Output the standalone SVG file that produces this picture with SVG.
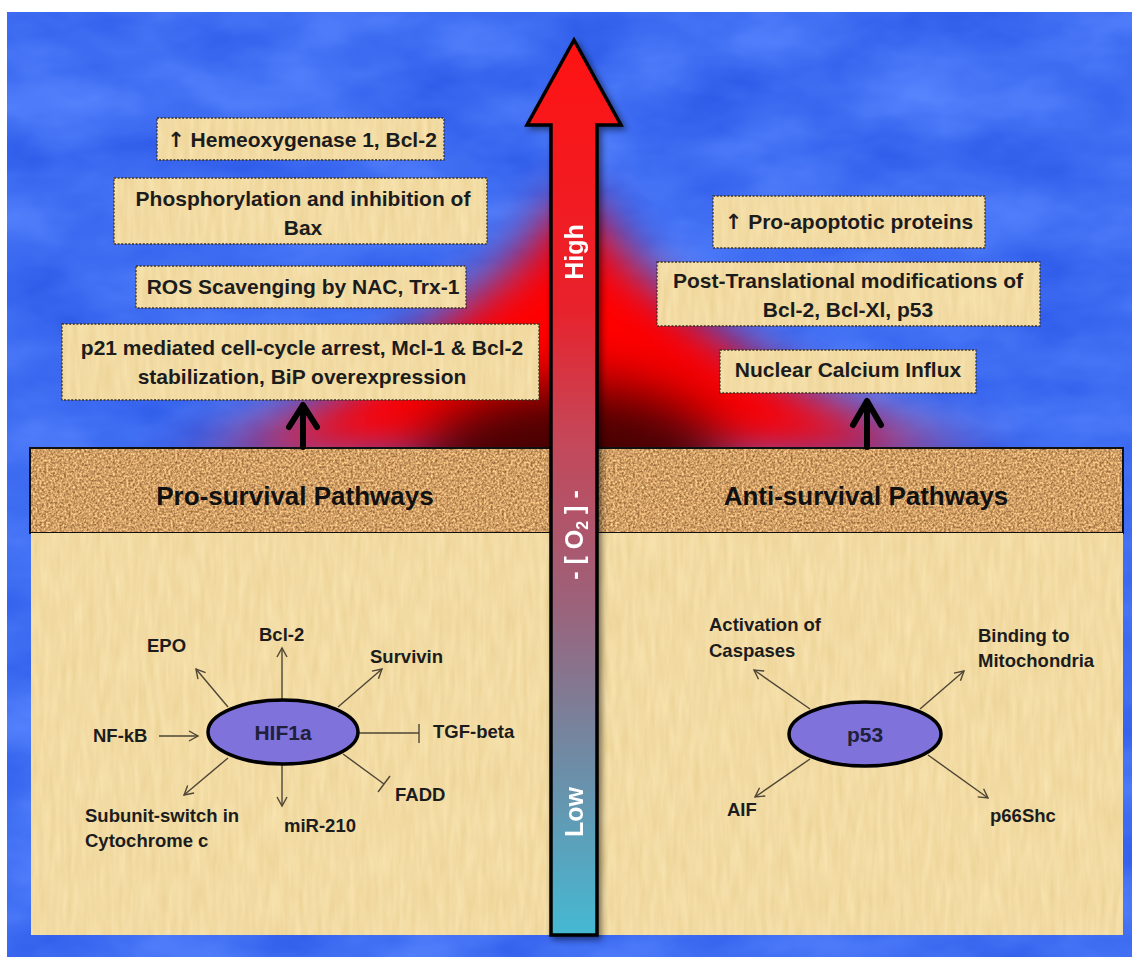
<svg xmlns="http://www.w3.org/2000/svg" width="1132" height="958" viewBox="0 0 1132 958">
<defs>
<style>
.lbl{font-family:"Liberation Sans",Arial,sans-serif;font-weight:bold;fill:#1c1c1c}
.up{font-family:"DejaVu Sans",sans-serif;font-weight:bold}
.boxt{font-size:21px;text-anchor:middle}
.node{font-size:18.5px}
.path{font-size:26px;text-anchor:middle;fill:#111}
.dot{fill:none;stroke:#3a3020;stroke-width:1.3;stroke-dasharray:2 1.6}
.paper{fill:#efd9a3}
.thin{fill:none;stroke:#4d4536;stroke-width:1.4}
.thick{fill:none;stroke:#000;stroke-width:6;stroke-linecap:round;stroke-linejoin:round}
.ell{fill:#7f72da;stroke:#000;stroke-width:3.5}
.ellt{font-size:21px;text-anchor:middle;fill:#20203a}
.arrt{font-family:"Liberation Sans",Arial,sans-serif;font-weight:bold;font-size:25px;fill:#fff;text-anchor:middle}
filter{color-interpolation-filters:sRGB}
</style>
<filter id="sky" x="0" y="0" width="1" height="1" color-interpolation-filters="sRGB">
<feTurbulence type="fractalNoise" baseFrequency="0.008 0.016" numOctaves="4" seed="2" result="n"/>
<feColorMatrix in="n" type="matrix" values="0.2 0 0 0 0.15  0.2 0 0 0 0.33  0.1 0 0 0 0.9  0 0 0 0 1" result="c"/>
<feComposite in="c" in2="SourceGraphic" operator="in"/>
</filter>
<filter id="papyrus" x="0" y="0" width="1" height="1" color-interpolation-filters="sRGB">
<feTurbulence type="fractalNoise" baseFrequency="0.18 0.025" numOctaves="2" seed="5" result="n"/>
<feColorMatrix in="n" type="matrix" values="0.06 0 0 0 0.92  0.08 0 0 0 0.82  0.12 0 0 0 0.58  0 0 0 0 1" result="c"/>
<feComposite in="c" in2="SourceGraphic" operator="in"/>
</filter>
<filter id="cork" x="0" y="0" width="1" height="1" color-interpolation-filters="sRGB">
<feTurbulence type="fractalNoise" baseFrequency="0.45" numOctaves="2" seed="9" result="n"/>
<feColorMatrix in="n" type="matrix" values="0.8 0 0 0 0.42  0.75 0 0 0 0.25  0.6 0 0 0 0.1  0 0 0 0 1" result="c"/>
<feComposite in="c" in2="SourceGraphic" operator="in"/>
</filter>
<filter id="blur1" x="-30%" y="-30%" width="160%" height="160%" color-interpolation-filters="sRGB"><feGaussianBlur stdDeviation="24"/></filter>
<filter id="blur2" x="-50%" y="-50%" width="200%" height="200%" color-interpolation-filters="sRGB"><feGaussianBlur stdDeviation="28"/></filter>
<filter id="shadow" x="-20%" y="-5%" width="140%" height="110%" color-interpolation-filters="sRGB"><feGaussianBlur in="SourceAlpha" stdDeviation="3"/><feOffset dx="3" dy="3"/><feComponentTransfer><feFuncA type="linear" slope="0.5"/></feComponentTransfer><feMerge><feMergeNode/><feMergeNode in="SourceGraphic"/></feMerge></filter>
<clipPath id="upper"><rect x="7" y="12" width="1125" height="436"/></clipPath>
<linearGradient id="o2" gradientUnits="userSpaceOnUse" x1="0" y1="40" x2="0" y2="935">
<stop offset="0" stop-color="#ff1212"/>
<stop offset="0.3" stop-color="#e8222c"/>
<stop offset="0.45" stop-color="#c4485a"/>
<stop offset="0.62" stop-color="#9e6078"/>
<stop offset="0.8" stop-color="#708aa4"/>
<stop offset="1" stop-color="#45b9d3"/>
</linearGradient>
<marker id="ah" markerWidth="12" markerHeight="12" refX="10" refY="6" orient="auto" markerUnits="userSpaceOnUse"><path d="M1,1 L10,6 L1,11" fill="none" stroke="#4d4536" stroke-width="1.4"/></marker>
</defs>

<g id="background">
<rect x="7" y="12" width="1125" height="945" fill="#3f6cf0" filter="url(#sky)"/>
<g clip-path="url(#upper)">
<path d="M160,455 C300,445 420,340 515,265 L574,190 L633,265 C720,340 850,445 1015,455 Z" fill="#ff0000" filter="url(#blur1)"/>
<ellipse cx="574" cy="460" rx="150" ry="75" fill="#4a0000" filter="url(#blur2)"/>
</g>
</g>

<g id="cork-band">
<rect x="30" y="448" width="1093" height="85" fill="#c08a58" filter="url(#cork)"/>
<rect x="30" y="448" width="1093" height="85" fill="none" stroke="#111" stroke-width="2"/>
</g>
<g id="papyrus-panel">
<rect x="31" y="533" width="1092" height="402" fill="#efd9a3" filter="url(#papyrus)"/>
</g>

<g id="label-pro-survival"><text class="lbl path" x="295" y="505">Pro-survival Pathways</text></g>
<g id="label-anti-survival"><text class="lbl path" x="866" y="505">Anti-survival Pathways</text></g>

<g id="box-hemeoxygenase">
<rect class="paper" x="157" y="118" width="287" height="42" filter="url(#papyrus)"/>
<rect class="dot" x="157" y="118" width="287" height="42"/>
<text class="lbl boxt" x="302" y="147"><tspan class="up">↑</tspan> Hemeoxygenase 1, Bcl-2</text>
</g>
<g id="box-phosphorylation">
<rect class="paper" x="114" y="178" width="373" height="66" filter="url(#papyrus)"/>
<rect class="dot" x="114" y="178" width="373" height="66"/>
<text class="lbl boxt" x="303" y="206">Phosphorylation and inhibition of</text>
<text class="lbl boxt" x="303" y="235">Bax</text>
</g>
<g id="box-ros">
<rect class="paper" x="136" y="266" width="330" height="42" filter="url(#papyrus)"/>
<rect class="dot" x="136" y="266" width="330" height="42"/>
<text class="lbl boxt" x="303" y="294">ROS Scavenging by NAC, Trx-1</text>
</g>
<g id="box-p21">
<rect class="paper" x="62" y="324" width="477" height="76" filter="url(#papyrus)"/>
<rect class="dot" x="62" y="324" width="477" height="76"/>
<text class="lbl boxt" x="302" y="355">p21 mediated cell-cycle arrest, Mcl-1 &amp; Bcl-2</text>
<text class="lbl boxt" x="302" y="384">stabilization, BiP overexpression</text>
</g>

<g id="box-pro-apoptotic">
<rect class="paper" x="713" y="196" width="272" height="52" filter="url(#papyrus)"/>
<rect class="dot" x="713" y="196" width="272" height="52"/>
<text class="lbl boxt" x="849" y="229"><tspan class="up">↑</tspan> Pro-apoptotic proteins</text>
</g>
<g id="box-post-translational">
<rect class="paper" x="657" y="262" width="383" height="64" filter="url(#papyrus)"/>
<rect class="dot" x="657" y="262" width="383" height="64"/>
<text class="lbl boxt" x="848" y="288">Post-Translational modifications of</text>
<text class="lbl boxt" x="848" y="317">Bcl-2, Bcl-Xl, p53</text>
</g>
<g id="box-nuclear-calcium">
<rect class="paper" x="720" y="350" width="256" height="43" filter="url(#papyrus)"/>
<rect class="dot" x="720" y="350" width="256" height="43"/>
<text class="lbl boxt" x="848" y="377">Nuclear Calcium Influx</text>
</g>

<g id="connectors">
<path class="thick" d="M303,447 L303,406"/>
<path class="thick" d="M289,427 L303,405 L317,427"/>
<path class="thick" d="M867,447 L867,402"/>
<path class="thick" d="M853,425 L867,401 L881,425"/>
<line class="thin" x1="228" y1="707" x2="196" y2="669" marker-end="url(#ah)"/>
<line class="thin" x1="282" y1="700" x2="282" y2="648" marker-end="url(#ah)"/>
<line class="thin" x1="338" y1="707" x2="382" y2="669" marker-end="url(#ah)"/>
<line class="thin" x1="159" y1="736" x2="198" y2="736" marker-end="url(#ah)"/>
<line class="thin" x1="358" y1="733" x2="419" y2="733"/>
<line class="thin" x1="419" y1="724" x2="419" y2="743"/>
<line class="thin" x1="343" y1="754" x2="384" y2="784"/>
<line class="thin" x1="378" y1="792" x2="390" y2="776"/>
<line class="thin" x1="228" y1="758" x2="184" y2="795" marker-end="url(#ah)"/>
<line class="thin" x1="282" y1="764" x2="282" y2="806" marker-end="url(#ah)"/>
<line class="thin" x1="810" y1="709" x2="754" y2="670" marker-end="url(#ah)"/>
<line class="thin" x1="920" y1="709" x2="964" y2="671" marker-end="url(#ah)"/>
<line class="thin" x1="810" y1="759" x2="755" y2="797" marker-end="url(#ah)"/>
<line class="thin" x1="928" y1="755" x2="988" y2="798" marker-end="url(#ah)"/>
</g>

<g id="node-hif1a">
<ellipse class="ell" cx="283" cy="732" rx="75" ry="32"/>
<text class="lbl ellt" x="283" y="740">HIF1a</text>
</g>
<g id="node-epo"><text class="lbl node" x="147" y="652">EPO</text></g>
<g id="node-bcl2"><text class="lbl node" x="259" y="641">Bcl-2</text></g>
<g id="node-survivin"><text class="lbl node" x="370" y="663">Survivin</text></g>
<g id="node-nfkb"><text class="lbl node" x="93" y="742">NF-kB</text></g>
<g id="node-tgfbeta"><text class="lbl node" x="433" y="738">TGF-beta</text></g>
<g id="node-fadd"><text class="lbl node" x="395" y="801">FADD</text></g>
<g id="node-subunit"><text class="lbl node" x="85" y="822">Subunit-switch in</text><text class="lbl node" x="85" y="847">Cytochrome c</text></g>
<g id="node-mir210"><text class="lbl node" x="284" y="832">miR-210</text></g>

<g id="node-p53">
<ellipse class="ell" cx="865" cy="734" rx="76" ry="32"/>
<text class="lbl ellt" x="865" y="742">p53</text>
</g>
<g id="node-caspases"><text class="lbl node" x="709" y="631">Activation of</text><text class="lbl node" x="709" y="657">Caspases</text></g>
<g id="node-mitochondria"><text class="lbl node" x="978" y="642">Binding to</text><text class="lbl node" x="978" y="667">Mitochondria</text></g>
<g id="node-aif"><text class="lbl node" x="727" y="816">AIF</text></g>
<g id="node-p66shc"><text class="lbl node" x="990" y="822">p66Shc</text></g>

<g id="o2-arrow" filter="url(#shadow)">
<path d="M551,935 L551,125 L527,125 L574,40 L621,125 L597,125 L597,935 Z" fill="url(#o2)" stroke="#000" stroke-width="3.5" stroke-linejoin="miter"/>
<text class="arrt" transform="translate(574,252) rotate(-90)" y="9">High</text>
<text class="arrt" transform="translate(574,535) rotate(-90)" y="9">- [ O<tspan font-size="16" dy="5">2</tspan><tspan dy="-5"> ] -</tspan></text>
<text class="arrt" transform="translate(574,812) rotate(-90)" y="9">Low</text>
</g>
</svg>
